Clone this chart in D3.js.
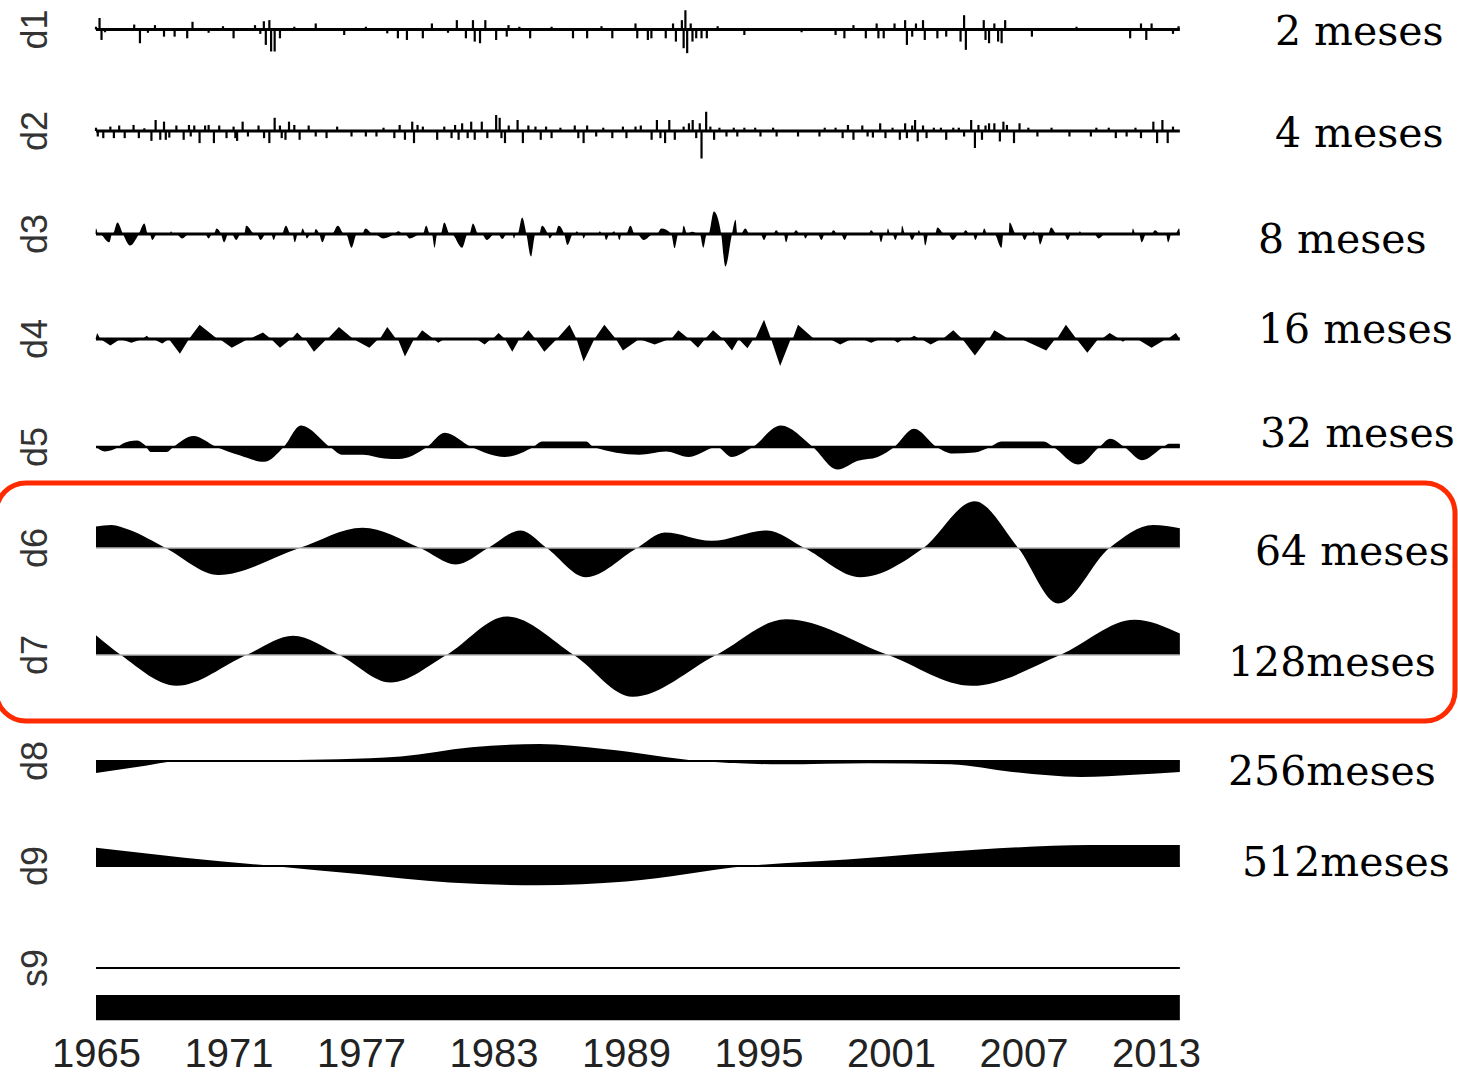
<!DOCTYPE html>
<html>
<head>
<meta charset="utf-8">
<script src="https://cdn.jsdelivr.net/npm/d3@7"></script>
<style>
  html, body { margin: 0; padding: 0; background: #fff; }
  svg { display: block; }
</style>
</head>
<body>
<svg id="mra" width="1458" height="1078"></svg>
<script>
// levels of the decomposition, top to bottom
const levels = ['d1', 'd2', 'd3', 'd4', 'd5', 'd6', 'd7', 'd8', 'd9', 's9'];
const periods = ['2 meses', '4 meses', '8 meses', '16 meses', '32 meses',
  '64 meses', '128meses', '256meses', '512meses'];
const yearTicks = [1965, 1971, 1977, 1983, 1989, 1995, 2001, 2007, 2013];
const timeSpan = [1965.0, 2014.08];

// d1, d2: isolated monthly spikes [year, value]
const d1Spikes = [[1965.0,0.05],[1965.16,0.21],[1965.25,-0.19],[1965.41,-0.05],[1966.73,0.09],[1966.99,-0.25],
  [1967.35,-0.06],[1967.67,0.08],[1968.08,-0.13],[1968.56,-0.13],[1969.13,-0.16],[1969.37,0.14],[1970.1,-0.06],
  [1970.75,0.06],[1971.23,-0.16],[1972.2,0.08],[1972.44,-0.08],[1972.6,0.15],[1972.69,-0.28],[1972.85,0.17],
  [1972.93,-0.4],[1973.09,-0.4],[1973.33,-0.16],[1973.98,0.05],[1974.95,0.11],[1976.24,-0.10],[1977.22,0.05],
  [1978.19,-0.07],[1978.67,-0.16],[1979.08,-0.19],[1979.8,-0.16],[1980.21,0.11],[1980.94,-0.06],[1981.34,0.17],
  [1981.75,-0.16],[1982.07,0.17],[1982.15,-0.22],[1982.39,-0.25],[1982.63,0.17],[1983.12,-0.19],[1983.6,-0.13],
  [1983.68,0.08],[1984.17,0.05],[1984.66,-0.16],[1985.63,0.05],[1986.6,-0.16],[1987.24,-0.16],[1987.89,0.06],
  [1988.38,-0.16],[1989.43,0.11],[1989.51,-0.16],[1989.99,-0.19],[1990.15,-0.16],[1990.8,-0.16],[1991.13,0.11],
  [1991.26,-0.22],[1991.53,0.17],[1991.61,-0.34],[1991.69,0.35],[1991.77,-0.43],[1991.93,0.11],[1992.01,-0.22],
  [1992.18,-0.16],[1992.42,-0.16],[1992.66,-0.16],[1993.15,0.06],[1994.36,-0.10],[1996.95,-0.05],[1998.49,-0.10],
  [1998.89,-0.16],[1999.3,0.08],[1999.86,-0.16],[2000.35,0.11],[2000.43,-0.16],[2000.67,-0.16],[2001.16,0.11],
  [2001.64,0.17],[2001.72,-0.28],[2001.96,-0.13],[2002.13,0.11],[2002.45,0.17],[2002.53,-0.19],[2003.1,-0.16],
  [2003.5,-0.13],[2004.15,-0.22],[2004.31,0.26],[2004.39,-0.37],[2005.2,0.17],[2005.28,-0.19],[2005.44,-0.25],
  [2005.68,0.11],[2005.85,-0.22],[2006.01,-0.25],[2006.17,0.17],[2007.38,-0.13],[2009.4,0.05],[2011.83,-0.16],
  [2012.32,0.11],[2012.56,-0.19],[2012.8,0.11],[2013.77,-0.08],[2014.02,0.06]];

const d2Spikes = [[1965.0,0.06],[1965.08,-0.10],[1965.33,-0.13],[1965.65,0.08],[1965.81,-0.13],[1966.05,0.10],
  [1966.3,-0.13],[1966.7,0.11],[1966.94,-0.13],[1967.19,0.05],[1967.51,-0.18],[1967.7,0.20],[1967.91,-0.16],
  [1968.08,0.17],[1968.16,-0.16],[1968.32,-0.12],[1968.64,0.10],[1968.97,-0.16],[1969.21,0.11],[1969.29,-0.10],
  [1969.45,0.10],[1969.69,-0.22],[1969.94,0.10],[1970.1,0.11],[1970.34,-0.22],[1970.58,0.10],[1970.91,-0.13],
  [1971.23,0.08],[1971.31,-0.13],[1971.39,-0.18],[1971.64,0.17],[1971.88,-0.10],[1972.36,0.10],[1972.61,-0.13],
  [1972.85,-0.22],[1973.09,0.24],[1973.33,0.10],[1973.41,-0.13],[1973.58,-0.16],[1973.74,0.17],[1973.98,0.11],
  [1974.22,-0.16],[1974.63,0.10],[1974.95,-0.10],[1975.44,-0.13],[1975.92,0.08],[1976.57,-0.10],[1977.22,-0.10],
  [1977.7,-0.10],[1978.02,0.06],[1978.51,-0.13],[1978.75,0.11],[1978.99,-0.16],[1979.32,0.17],[1979.4,-0.22],
  [1979.56,0.11],[1979.8,0.08],[1980.45,-0.16],[1980.77,0.08],[1981.1,-0.13],[1981.26,0.11],[1981.42,-0.16],
  [1981.58,0.14],[1981.83,-0.13],[1981.99,0.17],[1982.15,-0.16],[1982.47,0.17],[1982.72,-0.13],[1983.12,0.29],
  [1983.28,0.24],[1983.36,-0.13],[1983.52,-0.22],[1983.69,0.10],[1984.09,0.20],[1984.33,-0.22],[1984.58,0.10],
  [1984.9,0.08],[1985.14,-0.16],[1985.38,0.08],[1985.63,-0.13],[1986.03,0.06],[1986.68,0.10],[1986.84,-0.13],
  [1987.08,-0.22],[1987.24,0.10],[1987.65,-0.10],[1987.97,0.06],[1988.38,-0.13],[1988.86,0.08],[1989.02,-0.13],
  [1989.43,0.08],[1989.67,0.10],[1990.16,-0.16],[1990.4,0.20],[1990.56,-0.13],[1990.77,-0.22],[1990.96,0.20],
  [1991.21,-0.16],[1991.61,0.08],[1991.85,0.14],[1992.02,0.20],[1992.18,-0.13],[1992.34,0.14],[1992.42,-0.50],
  [1992.63,0.35],[1992.82,0.08],[1992.99,-0.16],[1993.23,0.06],[1993.55,-0.10],[1993.88,0.06],[1994.04,-0.10],
  [1994.36,0.06],[1994.85,0.06],[1995.09,-0.10],[1995.66,0.06],[1995.82,-0.10],[1996.79,-0.10],[1997.76,-0.10],
  [1998.0,0.06],[1998.49,0.06],[1998.81,-0.13],[1999.05,0.11],[1999.3,-0.16],[1999.7,0.10],[1999.94,-0.10],
  [2000.18,-0.12],[2000.51,0.14],[2000.75,-0.13],[2001.07,0.06],[2001.4,-0.16],[2001.64,0.14],[2001.72,-0.13],
  [2001.96,0.10],[2002.09,0.20],[2002.21,-0.19],[2002.45,0.10],[2002.61,-0.13],[2002.94,0.06],[2003.26,0.06],
  [2003.5,-0.16],[2003.82,0.06],[2004.07,0.06],[2004.31,-0.10],[2004.63,0.20],[2004.8,-0.31],[2004.96,0.11],
  [2005.12,-0.16],[2005.28,0.10],[2005.44,0.14],[2005.68,0.14],[2005.93,-0.19],[2006.09,0.17],[2006.25,0.11],
  [2006.57,-0.22],[2006.82,0.14],[2007.22,0.06],[2007.63,-0.10],[2008.27,0.06],[2009.08,-0.10],[2010.05,-0.10],
  [2010.3,0.06],[2010.86,0.06],[2011.18,-0.13],[2011.67,-0.10],[2012.07,0.06],[2012.32,-0.13],[2012.88,0.17],
  [2013.05,-0.22],[2013.29,0.20],[2013.53,-0.22],[2013.77,0.08]];

// d3, d4: lobes [start, peak, end, value]
const d3Lobes = [[1964.98,1965.0,1965.1,0.10],[1965.16,1965.6,1965.73,-0.15],[1965.76,1965.97,1966.22,0.21],
  [1966.22,1966.54,1966.94,-0.21],[1966.94,1967.19,1967.35,0.19],[1967.43,1967.55,1967.75,-0.11],
  [1968.32,1968.4,1968.48,0.05],[1968.64,1968.9,1969.21,-0.08],[1969.94,1970.1,1970.26,-0.08],
  [1970.34,1970.46,1970.66,0.10],[1970.66,1970.8,1970.99,-0.15],[1971.15,1971.35,1971.55,-0.11],
  [1971.71,1971.8,1972.2,0.15],[1972.28,1972.45,1972.69,-0.11],[1972.93,1973.05,1973.17,-0.11],
  [1973.41,1973.6,1973.82,0.15],[1973.9,1974.0,1974.14,-0.15],[1974.27,1974.35,1974.47,0.10],
  [1974.47,1974.55,1974.71,-0.08],[1974.87,1974.95,1975.11,0.09],[1975.11,1975.25,1975.44,-0.15],
  [1975.68,1975.95,1976.24,0.15],[1976.32,1976.57,1976.81,-0.25],[1977.05,1977.2,1977.54,0.10],
  [1977.62,1978.0,1978.51,-0.08],[1978.51,1978.7,1978.91,0.05],[1978.99,1979.2,1979.72,-0.08],
  [1979.8,1979.95,1980.13,0.15],[1980.21,1980.33,1980.45,-0.25],[1980.61,1980.77,1981.02,0.21],
  [1981.1,1981.58,1981.83,-0.25],[1981.91,1982.07,1982.31,0.19],[1982.47,1982.7,1983.04,-0.11],
  [1983.2,1983.4,1983.6,-0.09],[1983.85,1983.93,1984.01,-0.08],[1984.09,1984.3,1984.49,0.30],
  [1984.49,1984.7,1984.9,-0.41],[1985.06,1985.2,1985.46,0.15],[1985.46,1985.55,1985.71,-0.08],
  [1985.79,1985.95,1986.2,0.15],[1986.2,1986.35,1986.6,-0.20],[1986.68,1986.77,1986.9,0.05],
  [1987.0,1987.08,1987.2,-0.08],[1987.73,1987.81,1987.93,0.05],[1988.0,1988.1,1988.25,-0.11],
  [1988.3,1988.46,1988.55,0.05],[1988.6,1988.7,1988.8,-0.11],[1989.0,1989.2,1989.4,0.15],
  [1989.5,1989.8,1990.24,-0.11],[1990.4,1990.6,1991.05,0.10],[1991.05,1991.2,1991.37,-0.26],
  [1991.53,1991.61,1991.77,0.15],[1991.77,1992.0,1992.26,0.04],[1992.34,1992.5,1992.66,-0.25],
  [1992.74,1992.98,1993.31,0.41],[1993.31,1993.5,1993.8,-0.59],[1993.8,1993.96,1994.04,0.26],
  [1994.2,1994.4,1994.6,0.10],[1995.09,1995.25,1995.41,-0.11],[1995.66,1995.8,1995.98,0.07],
  [1996.14,1996.25,1996.38,-0.15],[1996.55,1996.7,1996.87,0.07],[1997.03,1997.12,1997.27,-0.08],
  [1997.68,1997.85,1998.0,-0.11],[1998.24,1998.4,1998.57,0.07],[1998.73,1998.9,1999.05,-0.11],
  [1999.98,2000.1,2000.27,0.07],[2000.43,2000.55,2000.67,-0.15],[2000.8,2000.86,2000.96,0.10],
  [2001.07,2001.2,2001.32,-0.11],[2001.45,2001.5,2001.64,0.15],[2001.8,2001.95,2002.13,-0.11],
  [2002.2,2002.25,2002.37,0.07],[2002.45,2002.55,2002.69,-0.21],[2003.0,2003.1,2003.42,0.12],
  [2003.58,2003.8,2004.07,-0.11],[2004.23,2004.38,2004.55,0.07],[2004.71,2004.82,2004.96,-0.11],
  [2005.12,2005.22,2005.36,0.10],[2005.68,2006.0,2006.09,-0.25],[2006.33,2006.37,2006.66,0.21],
  [2006.9,2007.05,2007.22,-0.11],[2007.35,2007.46,2007.55,0.05],[2007.63,2007.75,2007.95,-0.19],
  [2008.11,2008.25,2008.51,0.12],[2008.84,2009.0,2009.16,-0.11],[2009.48,2009.55,2009.65,0.05],
  [2010.2,2010.4,2010.7,-0.08],[2011.9,2011.95,2012.07,0.10],[2012.23,2012.35,2012.56,-0.15],
  [2012.8,2012.95,2013.2,0.07],[2013.45,2013.55,2013.7,-0.15],[2013.88,2014.05,2014.08,0.10]];

const d4Lobes = [[1964.98,1965.05,1965.2,0.11],[1965.2,1965.65,1966.1,-0.12],[1966.1,1966.6,1967.1,-0.07],
  [1967.1,1967.3,1967.45,0.06],[1967.6,1968.0,1968.3,-0.08],[1968.3,1968.8,1969.21,-0.27],
  [1969.21,1969.69,1970.5,0.26],[1970.6,1971.15,1971.88,-0.16],[1971.96,1972.56,1972.93,0.12],
  [1972.93,1973.33,1973.82,-0.16],[1973.85,1974.11,1974.4,0.12],[1974.47,1974.87,1975.44,-0.23],
  [1975.48,1976.0,1976.65,0.22],[1976.65,1977.38,1977.78,-0.16],[1977.85,1978.19,1978.59,0.22],
  [1978.67,1978.99,1979.4,-0.32],[1979.48,1979.77,1980.29,0.16],[1980.29,1980.5,1980.77,-0.07],
  [1982.23,1982.6,1982.88,-0.10],[1982.96,1983.23,1983.52,0.11],[1983.52,1983.85,1984.17,-0.23],
  [1984.25,1984.58,1984.9,0.16],[1984.9,1985.3,1985.87,-0.23],[1985.87,1986.44,1986.76,0.26],
  [1986.76,1987.08,1987.57,-0.41],[1987.57,1988.02,1988.54,0.26],[1988.54,1988.86,1989.6,-0.21],
  [1989.6,1990.3,1990.96,-0.10],[1991.05,1991.37,1991.85,0.16],[1991.85,1992.26,1992.58,-0.16],
  [1992.58,1992.94,1993.39,0.16],[1993.39,1993.8,1994.1,-0.21],[1994.1,1994.5,1994.77,-0.17],
  [1994.85,1995.25,1995.57,0.35],[1995.57,1995.98,1996.46,-0.49],[1996.55,1996.79,1997.52,0.26],
  [1998.24,1998.7,1999.21,-0.10],[1999.7,2000.1,2000.51,-0.07],[2001.07,2001.3,2001.56,-0.07],
  [2001.8,2002.05,2002.29,0.06],[2002.37,2002.8,2003.26,-0.10],[2003.34,2003.82,2004.23,0.16],
  [2004.23,2004.8,2005.36,-0.30],[2005.44,2005.68,2006.33,0.16],[2006.9,2008.03,2008.43,-0.21],
  [2008.51,2008.92,2009.4,0.26],[2009.4,2009.89,2010.38,-0.25],[2010.54,2010.9,2011.35,0.11],
  [2011.35,2011.5,2011.67,-0.05],[2012.15,2012.8,2013.45,-0.16],[2013.53,2013.9,2014.08,0.11]];

// d5 .. d9: smooth knots [year, value]
const d5Knots = [[1965.0,0],[1965.4,-0.08],[1966.0,0],[1966.2,0.06],[1966.84,0.12],[1967.2,0.04],[1967.48,-0.09],
  [1968.2,-0.09],[1968.5,0],[1969.41,0.20],[1970.45,0],[1971.5,-0.15],[1972.61,-0.27],[1973.5,0],[1974.28,0.39],
  [1975.6,0],[1976.14,-0.14],[1977.1,-0.14],[1978.06,-0.21],[1978.7,-0.22],[1979.99,0],[1980.79,0.26],[1982.0,0],
  [1983.51,-0.18],[1984.8,0],[1985.2,0.10],[1987.2,0.10],[1987.52,0],[1989.6,-0.14],[1990.8,-0.08],[1991.85,-0.18],
  [1993.13,0],[1993.77,-0.18],[1994.73,0],[1996.01,0.39],[1997.46,0],[1998.58,-0.41],[1999.5,-0.25],[2000.4,-0.18],
  [2001.15,0],[2002.04,0.33],[2003.07,0],[2003.8,-0.12],[2004.8,-0.10],[2005.48,0],[2006.0,0.10],[2007.9,0.10],
  [2008.36,0],[2009.48,-0.32],[2010.44,0],[2010.92,0.15],[2011.57,0],[2012.37,-0.24],[2013.33,0],[2013.6,0.06],
  [2014.08,0.06]];

const d6Knots = [[1965.0,0.39],[1965.7,0.42],[1966.5,0.33],[1968.15,0],[1970.55,-0.49],[1974.21,0],[1977.07,0.37],
  [1979.69,0],[1981.29,-0.30],[1982.76,0],[1984.23,0.32],[1985.41,0],[1987.18,-0.53],[1989.5,0],[1990.76,0.28],
  [1992.87,0.13],[1995.39,0.32],[1997.08,0],[1999.61,-0.53],[2002.47,0],[2004.78,0.85],[2006.76,0],[2008.57,-1.01],
  [2010.89,0],[2012.87,0.42],[2014.08,0.36]];

const d7Knots = [[1965.0,0.36],[1966.13,0],[1968.65,-0.56],[1971.81,0],[1973.92,0.35],[1976.02,0],[1978.34,-0.50],
  [1980.87,0],[1983.6,0.70],[1986.64,0],[1989.29,-0.76],[1993.08,0],[1996.24,0.65],[2000.87,0],[2004.66,-0.56],
  [2008.66,0],[2012.03,0.64],[2014.08,0.39]];

const d8Knots = [[1965.0,-0.22],[1967.0,-0.1],[1968.8,0],[1972.0,0.01],[1976.0,0.03],[1978.8,0.08],[1982.0,0.25],
  [1985.1,0.31],[1988.0,0.22],[1992.4,0],[1996.0,-0.06],[2000.0,-0.04],[2003.7,-0.06],[2006.5,-0.2],[2009.6,-0.29],
  [2012.0,-0.25],[2014.08,-0.2]];

const d9Knots = [[1965.0,0.33],[1969.0,0.15],[1973.0,0],[1977.0,-0.15],[1981.0,-0.30],[1985.0,-0.35],[1989.0,-0.28],
  [1994.5,0],[1999.0,0.12],[2005.0,0.30],[2010.0,0.38],[2014.08,0.38]];

const s9Knots = [[1965.0,-0.49],[2014.08,-0.49]];

// layout (pixels)
const rowBase = [29.5, 131, 234, 339, 447, 548, 655, 761, 866, 968];
const periodPos = [[1275,45],[1275,147],[1258,253],[1258,343],[1260,447],[1255,565],[1228,676],[1228,785],[1242,876]];
const amp = 55;

const svg = d3.select('#mra');

const x = d3.scaleLinear()
  .domain([yearTicks[0], yearTicks[yearTicks.length - 1]])
  .range([96, 1156]);

const yFor = i => d3.scaleLinear().domain([-1, 1]).range([rowBase[i] + amp, rowBase[i] - amp]);

const lobeKnots = lobes => lobes.flatMap(l => [[l[0], 0], [l[1], l[3]], [l[2], 0]]);

const panels = [
  { spikes: d1Spikes, base: 3 },
  { spikes: d2Spikes, base: 3 },
  { knots: lobeKnots(d3Lobes), curve: d3.curveMonotoneX, base: 3 },
  { knots: lobeKnots(d4Lobes), curve: d3.curveLinear, base: 3 },
  { knots: d5Knots, curve: d3.curveMonotoneX, base: 2.6 },
  { knots: d6Knots, curve: d3.curveMonotoneX, base: 1.5, gap: true },
  { knots: d7Knots, curve: d3.curveMonotoneX, base: 1.5, gap: true },
  { knots: d8Knots, curve: d3.curveMonotoneX, base: 2 },
  { knots: d9Knots, curve: d3.curveMonotoneX, base: 2 },
  { knots: s9Knots, curve: d3.curveLinear, base: 2, floor: -0.95 }
];

const g = svg.append('g');

panels.forEach((p, i) => {
  const y = yFor(i);
  const row = g.append('g').attr('class', 'row-' + levels[i]);

  if (p.knots) {
    const area = d3.area()
      .x(d => x(d[0]))
      .y0(y(p.floor !== undefined ? p.floor : 0))
      .y1(d => y(d[1]))
      .curve(p.curve);
    row.append('path')
      .datum(p.knots)
      .attr('fill', '#000')
      .attr('d', area);
  }

  if (p.spikes) {
    row.append('g')
      .attr('stroke', '#000')
      .attr('stroke-width', 2.2)
      .selectAll('line')
      .data(p.spikes)
      .join('line')
      .attr('x1', d => x(d[0]))
      .attr('x2', d => x(d[0]))
      .attr('y1', y(0))
      .attr('y2', d => y(d[1]));
  }

  row.append('line')
    .attr('x1', x(timeSpan[0]))
    .attr('x2', x(timeSpan[1]))
    .attr('y1', y(0))
    .attr('y2', y(0))
    .attr('stroke', p.gap ? '#b5b5b5' : '#000')
    .attr('stroke-width', p.base);

  // level name on the left
  svg.append('text')
    .attr('transform', `translate(47,${rowBase[i]}) rotate(-90)`)
    .attr('text-anchor', 'middle')
    .attr('font-family', '"Liberation Sans", Arial, sans-serif')
    .attr('font-size', 36)
    .attr('fill', '#333')
    .text(levels[i]);
});

// period labels on the right
svg.append('g')
  .selectAll('text')
  .data(periods)
  .join('text')
  .attr('x', (d, i) => periodPos[i][0])
  .attr('y', (d, i) => periodPos[i][1])
  .attr('font-family', '"DejaVu Serif", Georgia, serif')
  .attr('font-size', 41)
  .attr('fill', '#000')
  .text(d => d);

// time axis
const axis = svg.append('g')
  .attr('transform', 'translate(0,1036)')
  .call(d3.axisBottom(x).tickValues(yearTicks).tickFormat(d3.format('d')).tickSize(0).tickPadding(3));
axis.select('.domain').remove();
axis.selectAll('text')
  .attr('font-family', '"Liberation Sans", Arial, sans-serif')
  .attr('font-size', 40)
  .attr('fill', '#222');

// highlight box around d6 and d7
svg.append('rect')
  .attr('x', -4)
  .attr('y', 483)
  .attr('width', 1459)
  .attr('height', 238)
  .attr('rx', 30)
  .attr('fill', 'none')
  .attr('stroke', '#ff2a00')
  .attr('stroke-width', 5);
</script>
</body>
</html>
